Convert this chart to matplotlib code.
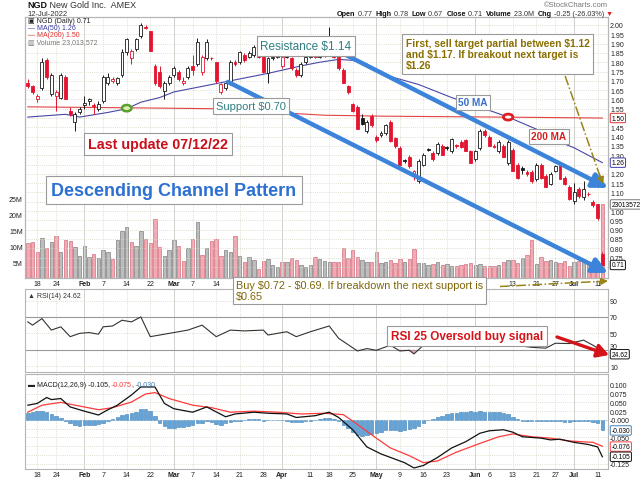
import matplotlib.pyplot as plt
from matplotlib.patches import Ellipse
from matplotlib.lines import Line2D
from matplotlib.text import Annotation
import numpy as np

plt.rcParams['font.family'] = ['Liberation Sans', 'DejaVu Sans']
plt.rcParams['text.parse_math'] = False

# NGD daily candles, 13-Jan-2022 .. 12-Jul-2022 (trading days)
opens = [1.69, 1.67, 1.60, 1.66, 1.81, 1.63, 1.62, 1.61, 1.72, 1.54,
         1.48, 1.53, 1.57, 1.59, 1.57, 1.55, 1.59, 1.69, 1.70, 1.69,
         1.73, 1.855, 1.82, 1.87, 1.94, 1.99, 1.97, 1.78, 1.75, 1.645,
         1.69, 1.73, 1.75, 1.69, 1.72, 1.78, 1.79, 1.75, 1.82, 1.82,
         1.80, 1.64, 1.66, 1.69, 1.80, 1.80, 1.84, 1.83, 1.84, 1.84,
         1.83, 1.74, 1.82, 1.83, 1.78, 1.83, 1.82, 1.76, 1.73, 1.80,
         1.83, 1.84, 1.83, 1.84, 1.85, 1.84, 1.83, 1.76, 1.67, 1.575,
         1.56, 1.50, 1.43, 1.51, 1.40, 1.41, 1.42, 1.48, 1.39, 1.34,
         1.27, 1.29, 1.19, 1.16, 1.25, 1.33, 1.31, 1.31, 1.35, 1.34,
         1.32, 1.35, 1.37, 1.38, 1.32, 1.28, 1.34, 1.43, 1.40, 1.35,
         1.32, 1.35, 1.26, 1.33, 1.25, 1.23, 1.21, 1.21, 1.17, 1.25,
         1.19, 1.145, 1.215, 1.25, 1.18, 1.13, 1.055, 1.12, 1.075, 1.09,
         1.05, 1.04, 0.77]
highs = [1.71, 1.68, 1.63, 1.82, 1.82, 1.74, 1.65, 1.74, 1.73, 1.56,
         1.53, 1.56, 1.62, 1.61, 1.58, 1.59, 1.73, 1.74, 1.72, 1.72,
         1.87, 1.93, 1.87, 1.93, 2.01, 2.00, 1.97, 1.79, 1.78, 1.70,
         1.73, 1.78, 1.76, 1.72, 1.78, 1.84, 1.93, 1.84, 1.925, 1.83,
         1.80, 1.69, 1.70, 1.81, 1.81, 1.86, 1.85, 1.86, 1.89, 1.85,
         1.84, 1.83, 1.84, 1.85, 1.84, 1.84, 1.83, 1.77, 1.80, 1.84,
         1.84, 1.85, 1.85, 1.86, 1.99, 1.85, 1.84, 1.77, 1.68, 1.58,
         1.57, 1.52, 1.49, 1.52, 1.41, 1.43, 1.47, 1.49, 1.40, 1.35,
         1.28, 1.30, 1.22, 1.28, 1.31, 1.34, 1.32, 1.37, 1.36, 1.35,
         1.39, 1.36, 1.38, 1.385, 1.33, 1.33, 1.44, 1.44, 1.41, 1.36,
         1.38, 1.36, 1.38, 1.34, 1.26, 1.24, 1.22, 1.22, 1.26, 1.26,
         1.20, 1.21, 1.25, 1.26, 1.19, 1.14, 1.15, 1.13, 1.16, 1.10,
         1.06, 1.04, 0.78]
lows = [1.66, 1.63, 1.585, 1.65, 1.71, 1.62, 1.54, 1.60, 1.60, 1.51,
        1.43, 1.52, 1.55, 1.57, 1.52, 1.54, 1.58, 1.68, 1.69, 1.68,
        1.72, 1.84, 1.79, 1.86, 1.93, 1.98, 1.86, 1.68, 1.66, 1.60,
        1.68, 1.72, 1.70, 1.68, 1.71, 1.73, 1.78, 1.73, 1.81, 1.81,
        1.69, 1.63, 1.65, 1.68, 1.78, 1.79, 1.80, 1.82, 1.83, 1.82,
        1.74, 1.69, 1.81, 1.82, 1.77, 1.82, 1.76, 1.72, 1.72, 1.79,
        1.82, 1.82, 1.82, 1.83, 1.84, 1.82, 1.76, 1.69, 1.63, 1.53,
        1.44, 1.46, 1.42, 1.45, 1.37, 1.40, 1.41, 1.37, 1.34, 1.25,
        1.26, 1.23, 1.165, 1.15, 1.24, 1.32, 1.27, 1.30, 1.30, 1.33,
        1.31, 1.34, 1.34, 1.32, 1.26, 1.27, 1.33, 1.40, 1.35, 1.34,
        1.31, 1.29, 1.25, 1.215, 1.17, 1.20, 1.19, 1.15, 1.16, 1.17,
        1.13, 1.14, 1.21, 1.17, 1.14, 1.06, 1.04, 1.07, 1.06, 1.08,
        1.02, 0.95, 0.67]
closes = [1.67, 1.64, 1.62, 1.80, 1.72, 1.73, 1.64, 1.73, 1.60, 1.52,
          1.52, 1.55, 1.58, 1.60, 1.565, 1.575, 1.72, 1.72, 1.71, 1.715,
          1.855, 1.925, 1.86, 1.925, 2.00, 1.985, 1.86, 1.69, 1.67, 1.69,
          1.72, 1.77, 1.71, 1.70, 1.77, 1.76, 1.91, 1.83, 1.91, 1.82,
          1.70, 1.685, 1.69, 1.80, 1.79, 1.855, 1.81, 1.85, 1.88, 1.83,
          1.75, 1.82, 1.83, 1.84, 1.83, 1.83, 1.77, 1.73, 1.79, 1.83,
          1.835, 1.83, 1.84, 1.845, 1.85, 1.83, 1.77, 1.69, 1.64, 1.54,
          1.44, 1.47, 1.48, 1.46, 1.38, 1.42, 1.46, 1.375, 1.35, 1.25,
          1.27, 1.24, 1.215, 1.27, 1.30, 1.33, 1.28, 1.36, 1.30, 1.34,
          1.385, 1.35, 1.345, 1.32, 1.26, 1.32, 1.43, 1.41, 1.35, 1.345,
          1.37, 1.29, 1.37, 1.215, 1.18, 1.22, 1.20, 1.16, 1.25, 1.18,
          1.13, 1.20, 1.24, 1.17, 1.145, 1.065, 1.10, 1.08, 1.12, 1.09,
          1.03, 0.96, 0.71]
prev_close = 1.72

# volume in millions
volume_m = [10.9, 11.4, 8.2, 12.5, 9.3, 11.1, 13.2, 8.2, 11.9, 11.6,
            9.6, 7.0, 10.0, 6.6, 7.5, 6.4, 8.7, 8.2, 6.0, 12.0,
            14.6, 16.1, 11.4, 10.0, 14.6, 12.1, 10.9, 18.3, 9.7, 7.0,
            8.7, 11.8, 9.9, 5.3, 9.4, 12.1, 17.4, 7.2, 9.4, 11.6,
            12.2, 6.9, 8.7, 8.0, 13.1, 6.9, 5.1, 6.6, 5.7, 2.8,
            5.2, 5.9, 4.2, 3.4, 4.9, 4.9, 6.2, 5.7, 4.2, 3.4,
            4.0, 6.6, 5.8, 5.2, 5.1, 4.9, 5.1, 9.5, 6.2, 8.8,
            6.5, 5.7, 5.1, 4.9, 8.0, 4.7, 4.9, 5.7, 4.7, 5.9,
            4.9, 5.9, 9.2, 4.7, 4.7, 4.1, 4.4, 4.9, 4.1, 4.4,
            3.9, 3.9, 4.1, 4.4, 4.7, 4.1, 4.4, 3.9, 3.7, 3.9,
            4.1, 5.1, 5.7, 5.7, 4.7, 6.2, 7.3, 11.8, 4.4, 6.5,
            5.4, 5.7, 4.9, 4.7, 5.4, 3.9, 4.9, 5.4, 4.9, 4.4,
            3.9, 5.4, 23.0]

ma50_idx = [0, 8, 11, 17, 21, 24, 28, 31, 41, 51, 58, 62, 66, 69, 72, 76, 83, 90, 97, 102, 108, 113, 116, 122]
ma50_val = [1.505, 1.52, 1.505, 1.53, 1.55, 1.585, 1.61, 1.64, 1.69, 1.74, 1.78, 1.80, 1.815, 1.81, 1.79,
            1.73, 1.68, 1.61, 1.55, 1.505, 1.44, 1.37, 1.34, 1.26]
ma200_idx = [0, 21, 40, 56, 63, 75, 100, 122]
ma200_val = [1.56, 1.555, 1.55, 1.525, 1.515, 1.51, 1.505, 1.50]

rsi_idx = [0, 1, 3, 5, 7, 9, 11, 13, 15, 16, 18, 20, 22, 24, 26, 29, 31, 34, 36, 37, 40, 43, 46, 50, 51,
           55, 57, 60, 64, 66, 70, 72, 74, 77, 79, 81, 82, 84, 86, 90, 93, 96, 100, 103, 107, 110, 112,
           115, 118, 120, 121, 122]
rsi_val = [64, 60, 68, 54, 58, 46, 50, 51, 49, 58, 59, 66, 64, 70, 46, 49, 51, 54, 58, 60, 46, 54, 53, 54, 48,
           52, 46, 52, 59, 44, 28.6, 31.5, 29.4, 35.6, 28.6, 29.4, 25, 35.6, 40, 44, 38, 47, 42, 36, 33, 32, 38,
           37.6, 41.8, 35.6, 32, 24.62]

macd_idx = [0, 2, 4, 5, 7, 9, 12, 15, 17, 19, 22, 24, 27, 29, 31, 35, 38, 42, 44, 48, 51, 55, 57, 61,
            64, 66, 69, 72, 75, 77, 80, 82, 84, 87, 90, 93, 96, 98, 101, 103, 105, 109, 111, 113, 116,
            119, 121, 122]
macd_val = [0.042, 0.047, 0.064, 0.058, 0.061, 0.037, 0.025, 0.014, 0.029, 0.042, 0.071, 0.094, 0.094,
            0.047, 0.032, 0.022, 0.037, 0.009, 0.017, 0.022, 0.019, 0.017, 0.007, 0.012, 0.022, 0.007,
            -0.028, -0.077, -0.097, -0.107, -0.122, -0.137, -0.130, -0.107, -0.080, -0.062, -0.038,
            -0.031, -0.028, -0.035, -0.048, -0.052, -0.057, -0.055, -0.064, -0.070, -0.077, -0.105]
signal_idx = [0, 3, 7, 12, 15, 18, 22, 25, 27, 30, 35, 39, 43, 48, 53, 58, 63, 67, 70, 74, 77, 81, 84,
              87, 91, 96, 100, 103, 107, 111, 115, 120, 122]
signal_val = [0.022, 0.042, 0.050, 0.037, 0.029, 0.035, 0.051, 0.074, 0.078, 0.061, 0.042, 0.035, 0.022,
              0.025, 0.022, 0.017, 0.019, 0.015, -0.013, -0.052, -0.080, -0.102, -0.122, -0.117, -0.092,
              -0.067, -0.048, -0.040, -0.048, -0.052, -0.060, -0.064, -0.075]
hist_val = [0.020, 0.024, 0.026, 0.026, 0.022, 0.018, 0.010, 0.006, -0.004, -0.010,
            -0.014, -0.016, -0.015, -0.014, -0.014, -0.013, -0.008, -0.002, 0.004, 0.008,
            0.014, 0.018, 0.020, 0.024, 0.030, 0.032, 0.026, 0.012, -0.008, -0.018,
            -0.022, -0.022, -0.020, -0.020, -0.018, -0.014, -0.010, -0.008, -0.002, -0.006,
            -0.012, -0.014, -0.010, -0.006, -0.004, -0.002, 0.001, 0.002, 0.003, 0.002,
            -0.002, -0.001, 0.001, 0.001, 0.000, -0.002, -0.005, -0.007, -0.005, -0.003,
            -0.002, 0.000, 0.003, 0.005, 0.006, 0.004, -0.004, -0.014, -0.024, -0.034,
            -0.042, -0.046, -0.044, -0.040, -0.038, -0.035, -0.030, -0.030, -0.030, -0.031,
            -0.029, -0.026, -0.024, -0.018, -0.010, 0.000, 0.004, 0.008, 0.012, 0.016,
            0.019, 0.021, 0.023, 0.024, 0.025, 0.024, 0.025, 0.024, 0.022, 0.023,
            0.022, 0.020, 0.016, 0.008, 0.002, -0.002, -0.003, -0.004, -0.003, -0.002,
            -0.003, -0.002, -0.003, -0.004, -0.005, -0.005, -0.004, -0.003, -0.002, -0.004,
            -0.006, -0.010, -0.030]

tick_idx = [2, 6, 12, 16, 21, 26, 31, 35, 40, 45, 50, 54, 60, 64, 69, 74, 79, 84, 89, 95, 98, 103, 108,
            112, 116, 121]
tick_lab = ['18', '24', 'Feb', '7', '14', '22', 'Mar', '7', '14', '21', '28', 'Apr', '11', '18', '25', 'May',
            '9', '16', '23', 'Jun', '6', '13', '21', '27', 'Jul', '11']

W, H = 640, 481
def fx(x): return x / W
def fy(y): return 1 - y / H

fig = plt.figure(figsize=(6.4, 4.81), dpi=100)
L, R = 25, 608
pw = (R - L) / W
ax_v = fig.add_axes([fx(L), fy(279), pw, 261 / H])
ax_p = fig.add_axes([fx(L), fy(279), pw, 261 / H])
ax_p.patch.set_visible(False)
ax_r = fig.add_axes([fx(L), fy(373), pw, 83 / H])
ax_m = fig.add_axes([fx(L), fy(470), pw, 95 / H])

x = np.arange(len(closes))
o = np.array(opens); c = np.array(closes); hi = np.array(highs); lo = np.array(lows)
pc = np.r_[prev_close, c[:-1]]
up = c >= pc
XL = (-0.6, 123.2)
grid_c = '#d6d6c6'
months = [t for t, l in zip(tick_idx, tick_lab) if l.isalpha()]

for ax in (ax_v, ax_p, ax_r, ax_m):
    ax.set_xlim(*XL)
    for s in ax.spines.values():
        s.set_color('#b5b5b5'); s.set_linewidth(0.8)
    ax.tick_params(length=0, labelsize=5, pad=1.5, colors='#222222')

for ax in (ax_p, ax_r, ax_m):
    ax.set_xticks(tick_idx)
    ax.grid(True, ls=(0, (1, 1.5)), color=grid_c, lw=0.6)
    ax.set_axisbelow(True)
    for m in months:
        ax.axvline(m, color='#d0d0d0', lw=0.7, zorder=0)

# volume (behind the price)
ax_v.bar(x, volume_m, width=0.72, color=np.where(up, '#bdbdbd', '#f2a9b3'),
         edgecolor=np.where(up, '#7f7f7f', '#d2707e'), lw=0.5)
ax_v.set_ylim(0, 81.6)
ax_v.set_yticks([5, 10, 15, 20, 25])
ax_v.set_yticklabels(['5M', '10M', '15M', '20M', '25M'])
ax_v.set_xticks([])

# price panel; labels sitting under the value tags are covered in the original
ax_p.set_ylim(0.64, 2.043)
ax_p.yaxis.tick_right()
pt = np.round(np.arange(0.70, 2.001, 0.05), 2)
ax_p.set_yticks(pt)
ax_p.set_yticklabels(['' if v in (0.70, 1.05, 1.25, 1.50) else f'{v:.2f}' for v in pt])
# labels under the "Buy" note are hidden by it in the original
ax_p.set_xticklabels(['' if 42 <= t <= 100 else l for t, l in zip(tick_idx, tick_lab)])
ax_p.plot(ma200_idx, ma200_val, color='#e04444', lw=0.8, zorder=3)
ax_p.plot(ma50_idx, ma50_val, color='#4848a8', lw=0.8, zorder=3)
col = np.where(up, '#1a1a1a', '#e3142f')
ax_p.vlines(x, lo, hi, colors=col, lw=0.7, zorder=4)
body = np.maximum(np.abs(c - o), 0.004)
ax_p.bar(x, body, bottom=np.minimum(o, c), width=0.62,
         color=np.where(c > o, 'white', col), edgecolor=col, lw=0.6, zorder=5)

# channel lines
chan = dict(arrowstyle='-|>,head_length=0.9,head_width=0.45', lw=3.2, color='#3c84da',
            shrinkA=0, shrinkB=0)
ax_p.annotate('', xy=(123.2, 1.124), xytext=(64.2, 1.882), arrowprops=chan, zorder=7,
              annotation_clip=False)
ax_p.annotate('', xy=(123.2, 0.667), xytext=(42.5, 1.694), arrowprops=chan, zorder=7,
              annotation_clip=False)

# crossovers
ax_p.add_patch(Ellipse((21, 1.553), 2.0, 0.034, fc='#d8efb0', ec='#5aa02c', lw=1.8, zorder=8))
ax_p.add_patch(Ellipse((102, 1.505), 2.0, 0.032, fc='white', ec='#e02020', lw=2.0, zorder=8))

# olive dash-dot pointer to first target
olive = '#9a8418'
ax_p.plot([114.1, 121.6], [1.726, 1.18], color=olive, lw=1.1, ls='-.', zorder=8)
ax_p.annotate('', xy=(122.2, 1.145), xytext=(121.5, 1.19),
              arrowprops=dict(arrowstyle='-|>', color=olive, lw=1.1, shrinkA=0, shrinkB=0), zorder=8)


def tag(ax, val, text, ec, ytrans=None):
    yc = ytrans if ytrans is not None else ax.transData
    ax.annotate(text, xy=(1, val), xycoords=(ax.transAxes, yc), xytext=(2.5, 0),
                textcoords='offset points', fontsize=4.8, va='center', ha='left',
                bbox=dict(boxstyle='round,pad=0.18', fc='white', ec=ec, lw=0.7),
                annotation_clip=False, zorder=20)


tag(ax_p, 1.50, '1.50', '#e03030')
tag(ax_p, 1.26, '1.26', '#3c3ca8')
tag(ax_p, 23.0, '23013572', '#777777', ax_v.transData)
tag(ax_p, 0.71, '0.71', '#111111')

# RSI panel
ax_r.set_ylim(3, 104)
ax_r.yaxis.tick_right()
ax_r.set_yticks([10, 30, 50, 70, 90])
ax_r.set_xticklabels([])
for t in ax_r.get_yticklabels():
    if t.get_text() == '30':
        t.set_va('bottom')   # sits just above the 24.62 tag
ax_r.axhline(70, color='#999999', lw=0.8)
ax_r.axhline(30, color='#999999', lw=0.8)
ri = np.array(rsi_idx); rv = np.array(rsi_val)
ax_r.fill_between(ri, rv, 30, where=rv < 30, interpolate=True, color='#f2a4ae', lw=0)
ax_r.plot(ri, rv, color='#333333', lw=0.8)
tag(ax_r, 24.62, '24.62', '#111111')

# MACD panel
ax_m.set_ylim(-0.140, 0.131)
ax_m.yaxis.tick_right()
mt = np.round(np.arange(-0.125, 0.101, 0.025), 3)
ax_m.set_yticks(mt)
ax_m.set_yticklabels(['' if v in (-0.025, -0.075, -0.1) else f'{v:.3f}' for v in mt])
ax_m.set_xticklabels(tick_lab)
ax_m.bar(x, hist_val, width=0.75, color='#62a4d8', edgecolor='#3f7fb6', lw=0.4)
ax_m.axhline(0, color='#9dc3e3', lw=0.6, ls=(0, (2, 2)))
ax_m.plot(signal_idx, signal_val, color='#ff3b3b', lw=0.9)
ax_m.plot(macd_idx, macd_val, color='#111111', lw=0.9)
tag(ax_m, -0.030, '-0.030', '#3f7fb6')
tag(ax_m, -0.076, '-0.076', '#ff3b3b')
tag(ax_m, -0.105, '-0.105', '#111111')

for ax in (ax_p, ax_m):
    for t in ax.get_xticklabels():
        if t.get_text().isalpha():
            t.set_fontweight('bold')


def chain(x0, y0, pieces, size):
    t = fig.text(fx(x0), fy(y0), pieces[0][0], fontsize=size, fontweight=pieces[0][1],
                 color=pieces[0][2], va='bottom', zorder=10)
    for s, w, cc in pieces[1:]:
        t = fig.add_artist(Annotation(s, xy=(1, 0), xycoords=t, fontsize=size, fontweight=w,
                                      color=cc, va='bottom', zorder=10))
    return t


# header
chain(27, 10, [('NGD', 'bold', '#111111'), (' New Gold Inc.  AMEX', 'normal', '#333333')], 6.5)
fig.text(fx(27), fy(18), '12-Jul-2022', fontsize=5.5, color='#333333', va='bottom')
fig.text(fx(608), fy(9), '\u00a9StockCharts.com', fontsize=5.5, color='#777777', ha='right', va='bottom')
chain(337, 18, [('Open', 'bold', '#111'), (' 0.77  ', 'normal', '#333'), ('High', 'bold', '#111'),
                (' 0.78  ', 'normal', '#333'), ('Low', 'bold', '#111'), (' 0.67  ', 'normal', '#333'),
                ('Close', 'bold', '#111'), (' 0.71  ', 'normal', '#333'), ('Volume', 'bold', '#111'),
                (' 23.0M  ', 'normal', '#333'), ('Chg', 'bold', '#111'),
                (' -0.25 (-26.03%)', 'normal', '#333'), (' \u25bc', 'normal', '#e02020')], 5.2)

# panel legends
fig.text(fx(28), fy(25), '\u25a3 NGD (Daily) 0.71', fontsize=5, color='#222222', va='bottom')
fig.text(fx(28), fy(32), '\u2014 MA(50) 1.26', fontsize=5, color='#3c3ca8', va='bottom')
fig.text(fx(28), fy(39), '\u2014 MA(200) 1.50', fontsize=5, color='#e03030', va='bottom')
fig.text(fx(28), fy(46), '\u25a5 Volume 23,013,572', fontsize=5, color='#777777', va='bottom')
fig.text(fx(28), fy(300), '\u25b2 RSI(14) 24.62', fontsize=5, color='#333333', va='bottom')
chain(28, 389, [('\u25ac MACD(12,26,9) -0.105, ', 'normal', '#222222'), ('-0.075', 'normal', '#ff3b3b'),
                (', ', 'normal', '#222222'), ('-0.030', 'normal', '#3f7fb6')], 5)

# annotation boxes
box = dict(boxstyle='square,pad=0.3', fc='white', ec='#9a9a9a', lw=0.8)
fig.text(fx(306), fy(47), 'Resistance $1.14', fontsize=8.5, color='#2f7f80', ha='center', va='center', bbox=box)
fig.text(fx(251), fy(107), 'Support $0.70', fontsize=8, color='#2f7f80', ha='center', va='center', bbox=box)
fig.text(fx(158), fy(145), 'Last update 07/12/22', fontsize=10.3, fontweight='bold', color='#c8101c',
         ha='center', va='center', bbox=box)
fig.text(fx(174), fy(191), 'Descending Channel Pattern', fontsize=13, fontweight='bold', color='#2b70d2',
         ha='center', va='center', bbox=box)
fig.text(fx(406), fy(39), 'First, sell target partial between $1.12\nand $1.17. If breakout next target is\n$1.26',
         fontsize=7.4, fontweight='bold', color='#8a6f00', ha='left', va='top', linespacing=1.15,
         bbox=dict(boxstyle='square,pad=0.35', fc='white', ec='#9a9a9a', lw=0.8))
fig.text(fx(473), fy(103), '50 MA', fontsize=7.2, fontweight='bold', color='#3a6fc8', ha='center', va='center',
         bbox=dict(boxstyle='square,pad=0.25', fc='white', ec='#9a9a9a', lw=0.8))
fig.text(fx(549), fy(137), '200 MA', fontsize=7.2, fontweight='bold', color='#d42020', ha='center', va='center',
         bbox=dict(boxstyle='square,pad=0.25', fc='white', ec='#9a9a9a', lw=0.8))
fig.text(fx(236), fy(281), 'Buy $0.72 - $0.69. If breakdown the next support is\n$0.65', fontsize=7.8,
         color='#7d6608', ha='left', va='top', linespacing=1.15,
         bbox=dict(boxstyle='square,pad=0.3', fc='white', ec='#9a9a9a', lw=0.8))
fig.text(fx(391), fy(337), 'RSI 25 Oversold buy signal', fontsize=8.5, fontweight='bold', color='#d41418',
         ha='left', va='center', bbox=dict(boxstyle='square,pad=0.3', fc='white', ec='#9a9a9a', lw=0.8))

# figure-level arrows
fig.add_artist(Line2D([fx(500), fx(598)], [fy(287.5), fy(282.5)], color=olive, lw=1.1, ls='-.'))
ax_p.annotate('', xy=(fx(608), fy(282)), xytext=(fx(597), fy(282.6)), xycoords='figure fraction',
              arrowprops=dict(arrowstyle='-|>', color=olive, lw=1.1, shrinkA=0, shrinkB=0),
              annotation_clip=False)
ax_r.annotate('', xy=(fx(609), fy(356)), xytext=(fx(557), fy(338)), xycoords='figure fraction',
              arrowprops=dict(arrowstyle='-|>,head_length=0.7,head_width=0.4', color='#d41418', lw=2.4,
                              shrinkA=0, shrinkB=0), annotation_clip=False, zorder=30)

fig.savefig('out.png', dpi=100)
